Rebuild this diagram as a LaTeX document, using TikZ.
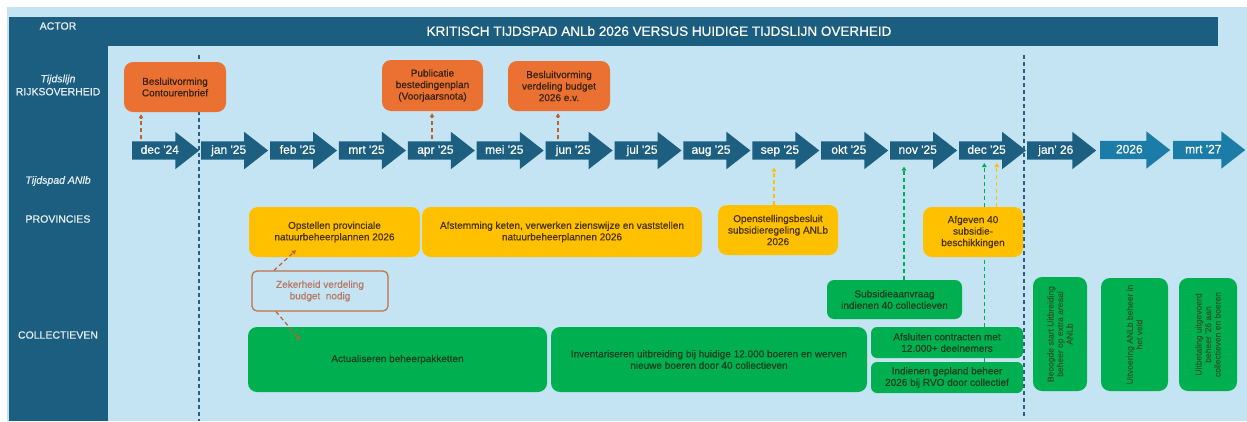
\documentclass[tikz,border=0pt]{standalone}
\usepackage{fontspec}
\setmainfont{Liberation Sans}
\newfontfamily\heavy{Liberation Sans}[FakeBold=0.7]
\usetikzlibrary{shapes.arrows,arrows.meta,calc}

\definecolor{bgblue}{HTML}{C4E3F3}
\definecolor{darkblue}{HTML}{1B5E80}
\definecolor{arrowblue}{HTML}{1C5F80}
\definecolor{arrowlight}{HTML}{1B7CA7}
\definecolor{orangebox}{HTML}{EA7132}
\definecolor{yellowbox}{HTML}{FFC000}
\definecolor{greenbox}{HTML}{00B050}
\definecolor{orangetext}{HTML}{3A2410}
\definecolor{yellowtext}{HTML}{4A3500}
\definecolor{greentext}{HTML}{16401F}
\definecolor{rottext}{HTML}{2A5A25}
\definecolor{zektext}{HTML}{B87A64}
\definecolor{zekline}{HTML}{C0704A}
\definecolor{orangedash}{HTML}{C0602A}
\definecolor{vline}{HTML}{2E5E84}
\definecolor{labelwhite}{HTML}{E6EEF3}

\tikzset{
  month/.style={single arrow, draw=none, fill=arrowblue, text=white, anchor=tail,
    minimum height=67pt, minimum width=0pt, single arrow head extend=9.5pt,
    single arrow tip angle=76, inner xsep=0pt, inner ysep=3.25pt,
    text height=9pt, text depth=2.5pt, font=\heavy\fontsize{12}{14}\selectfont},
  box/.style={rounded corners=9pt, inner sep=2pt, align=center,
    font=\heavy\fontsize{10}{11.5}\selectfont},
  obox/.style={box, fill=orangebox, text=orangetext},
  ybox/.style={box, fill=yellowbox, text=yellowtext},
  gbox/.style={box, fill=greenbox, text=greentext},
  rbox/.style={gbox, rotate=90, text=rottext, font=\heavy\fontsize{8.5}{9.5}\selectfont},
  actor/.style={text=labelwhite, align=center, font=\heavy\fontsize{10.5}{13}\selectfont},
  link/.style={dashed, dash pattern=on 4pt off 3pt, line width=1.2pt,
    -{Triangle[length=4pt,width=4.5pt]}},
  olink/.style={link, orangedash},
  ylink/.style={link, yellowbox},
  glink/.style={link, greenbox},
  gline/.style={greenbox, line width=1.2pt, dash pattern=on 4pt off 3pt},
  timeline/.style={vline, line width=1.3pt, dash pattern=on 4pt off 3pt}
}

\begin{document}
\begin{tikzpicture}[x=1pt, y=-1pt]
\useasboundingbox (0,0) rectangle (1247,421);

% background and header
\fill[bgblue] (7,7) rectangle (1247,421);
\fill[darkblue] (9,17) rectangle (1218,46);
\fill[darkblue] (9,17) rectangle (108,421);
\node[text=white, font=\heavy\fontsize{13.5}{16}\selectfont] (title) at (659,31) {KRITISCH TIJDSPAD ANLb 2026 VERSUS HUIDIGE TIJDSLIJN OVERHEID};

% actors
\node[actor] (actor) at (58,26) {ACTOR};
\node[actor] (rijk) at (58,85) {\itshape Tijdslijn\\RIJKSOVERHEID};
\node[actor] (tpad) at (58,181) {\itshape Tijdspad ANlb};
\node[actor] (prov) at (58,219) {PROVINCIES};
\node[actor] (coll) at (58,335) {COLLECTIEVEN};

% timelines
\draw[timeline] (199,55) -- (199,421);
\draw[timeline] (1024,55) -- (1024,417);

% months
\foreach \lbl [count=\i from 0] in {dec '24,jan '25,feb '25,mrt '25,apr '25,mei '25,jun '25,jul '25,aug '25,sep '25,okt '25,nov '25,dec '25}
  \node[month] (m\i) at ({132+68.9*\i},150.5) {\lbl};
\node[month, minimum height=69pt] (m13) at (1027,150.5) {jan' 26};
\node[month, fill=arrowlight, minimum height=70pt] (m14) at (1100,150) {2026};
\node[month, fill=arrowlight, minimum height=72pt] (m15) at (1173,150) {mrt '27};

% link points on the month arrows
\coordinate (p0) at ($(m0.tail)+(9,-11.5)$);
\coordinate (p4) at ($(m4.tail)+(24.4,-11.5)$);
\coordinate (p6) at ($(m6.tail)+(12.6,-11.5)$);
\coordinate (p9) at ($(m9.tail)+(21.9,17)$);
\coordinate (p11) at ($(m11.tail)+(14.1,16)$);
\coordinate (p12g) at ($(m12.tail)+(25.5,12.5)$);
\coordinate (p12y) at ($(m12.tail)+(38,12.5)$);

% rijksoverheid
\node[obox, minimum width=102pt, minimum height=50pt] (cb) at (175,87) {Besluitvorming\\Contourenbrief};
\node[obox, minimum width=101pt, minimum height=51pt] (pub) at (432.5,85.5) {Publicatie\\bestedingenplan\\(Voorjaarsnota)};
\node[obox, minimum width=102pt, minimum height=50pt] (bud) at (559,86) {Besluitvorming\\verdeling budget\\2026 e.v.};

% provincies
\node[ybox, minimum width=171pt, minimum height=50pt] (opst) at (334.5,232) {Opstellen provinciale\\natuurbeheerplannen 2026};
\node[ybox, minimum width=280pt, minimum height=50pt] (afst) at (562,232) {Afstemming keten, verwerken zienswijze en vaststellen\\natuurbeheerplannen 2026};
\node[ybox, minimum width=120pt, minimum height=50pt] (open) at (778,230) {Openstellingsbesluit\\subsidieregeling ANLb\\2026};
\node[ybox, minimum width=100pt, minimum height=50pt] (afg) at (973,232) {Afgeven 40\\subsidie-\\beschikkingen};
\node[box, draw=zekline, line width=1.2pt, rounded corners=5pt, text=zektext,
  minimum width=136pt, minimum height=40pt] (zek) at (320,291) {Zekerheid verdeling\\budget~~nodig};

% collectieven
\node[gbox, minimum width=299pt, minimum height=65pt] (act) at (397.5,359.5) {Actualiseren beheerpakketten};
\node[gbox, minimum width=316pt, minimum height=65pt] (inv) at (709,359.5) {Inventariseren uitbreiding bij huidige 12.000 boeren en werven\\nieuwe boeren door 40 collectieven};
\node[gbox, rounded corners=7pt, minimum width=135pt, minimum height=39pt] (sub) at (894.5,299.5) {Subsidieaanvraag\\indienen 40 collectieven};
\node[gbox, rounded corners=6pt, minimum width=152pt, minimum height=31pt] (afs) at (947,342.5) {Afsluiten contracten met\\12.000+ deelnemers};
\node[gbox, rounded corners=6pt, minimum width=152pt, minimum height=31pt] (ind) at (947,377.5) {Indienen gepland beheer\\2026 bij RVO door collectief};
\node[rbox, minimum width=114pt, minimum height=54pt] (beo) at (1060,334) {Beoogde start Uitbreiding\\beheer op extra areaal\\ANLb};
\node[rbox, minimum width=113pt, minimum height=67pt] (uit) at (1134.5,334.5) {Uitvoering ANLb beheer in\\het veld};
\node[rbox, minimum width=113pt, minimum height=58pt] (bet) at (1208,334.5) {Uitbetaling uitgevoerd\\beheer '26 aan\\collectieven en boeren};

% links
\draw[olink, shorten >=2pt] (p0) -- (p0 |- cb.south);
\draw[olink, shorten >=2pt] (p4) -- (p4 |- pub.south);
\draw[olink, shorten >=2pt] (p6) -- (p6 |- bud.south);
\draw[olink] ([xshift=-46pt]zek.north) -- ([xshift=-38.5pt,yshift=7pt]opst.south);
\draw[olink] ([xshift=-44pt]zek.south) -- ([xshift=-97.5pt,yshift=-13pt]act.north);
\draw[ylink] (p9 |- open.north) -- (p9);
\draw[ylink] (p12y |- afg.north) -- (p12y);
\draw[glink] (p11 |- sub.north) -- (p11);
% green link from indienen, hidden behind afsluiten and afgeven
\draw[gline] (p12g |- ind.north) -- (p12g |- afs.south);
\draw[gline] (p12g |- afs.north) -- (p12g |- afg.south);
\draw[glink] (p12g |- afg.north) -- (p12g);
\end{tikzpicture}
\end{document}
